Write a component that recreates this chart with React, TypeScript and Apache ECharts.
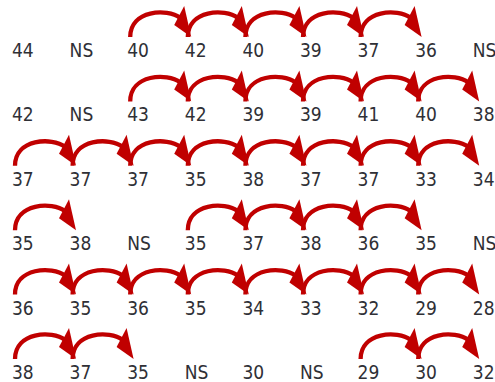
import React, { useEffect, useRef } from "react";
import * as echarts from "echarts";

// Each row of the grid, left to right ("NS" = no score)
const row1 = ["44", "NS", "40", "42", "40", "39", "37", "36", "NS"];
const row2 = ["42", "NS", "43", "42", "39", "39", "41", "40", "38"];
const row3 = ["37", "37", "37", "35", "38", "37", "37", "33", "34"];
const row4 = ["35", "38", "NS", "35", "37", "38", "36", "35", "NS"];
const row5 = ["36", "35", "36", "35", "34", "33", "32", "29", "28"];
const row6 = ["38", "37", "35", "NS", "30", "NS", "29", "30", "32"];

const rows = [row1, row2, row3, row4, row5, row6];

const TEXT_COLOR = "#2f3036";
const ARROW_COLOR = "#C00000";

export default function App() {
  const ref = useRef<HTMLDivElement>(null);

  useEffect(() => {
    if (!ref.current) return;
    const chart = echarts.init(ref.current, null, { renderer: "svg" });

    const cells: any[] = [];
    const arrows: any[] = [];
    rows.forEach((row, r) => {
      row.forEach((v, c) => {
        cells.push([c, r, v]);
        if (c < row.length - 1 && v !== "NS" && row[c + 1] !== "NS") {
          arrows.push([c, r]);
        }
      });
    });

    chart.setOption({
      animation: false,
      grid: { left: 12, right: 22.2, top: 50, bottom: 10 },
      xAxis: { type: "value", min: 0, max: 8, show: false },
      yAxis: { type: "value", min: 0, max: 5, inverse: true, show: false },
      series: [
        {
          type: "custom",
          data: arrows,
          renderItem: (params: any, api: any) => {
            const c = api.value(0);
            const r = api.value(1);
            const p0 = api.coord([c, r]);
            const p1 = api.coord([c + 1, r]);
            const s = (p1[0] - p0[0]) / 57.6;
            const X = (v: number) => p0[0] + v * s;
            const Y = (v: number) => p0[1] + v;
            return {
              type: "group",
              children: [
                {
                  type: "bezierCurve",
                  shape: {
                    x1: X(3), y1: Y(-13),
                    cpx1: X(3), cpy1: Y(-40),
                    cpx2: X(40), cpy2: Y(-42),
                    x2: X(53), y2: Y(-32),
                  },
                  style: { stroke: ARROW_COLOR, lineWidth: 4.3, fill: null },
                },
                {
                  type: "polygon",
                  shape: {
                    points: [
                      [X(57), Y(-44)],
                      [X(64), Y(-13)],
                      [X(47), Y(-25)],
                    ],
                  },
                  style: { fill: ARROW_COLOR },
                },
              ],
            };
          },
        },
        {
          type: "custom",
          data: cells,
          renderItem: (params: any, api: any) => {
            const p = api.coord([api.value(0), api.value(1)]);
            const txt = cells[params.dataIndex][2];
            return {
              type: "text",
              x: p[0],
              y: p[1],
              style: {
                text: txt,
                fill: TEXT_COLOR,
                font: "19px 'DejaVu Sans Condensed', 'DejaVu Sans'",
                align: "left",
                verticalAlign: "middle",
              },
            };
          },
        },
      ],
    });

    return () => chart.dispose();
  }, []);

  return (
    <div
      ref={ref}
      style={{ position: "fixed", left: 0, top: 0, width: 495, height: 382, background: "#fff" }}
    />
  );
}
